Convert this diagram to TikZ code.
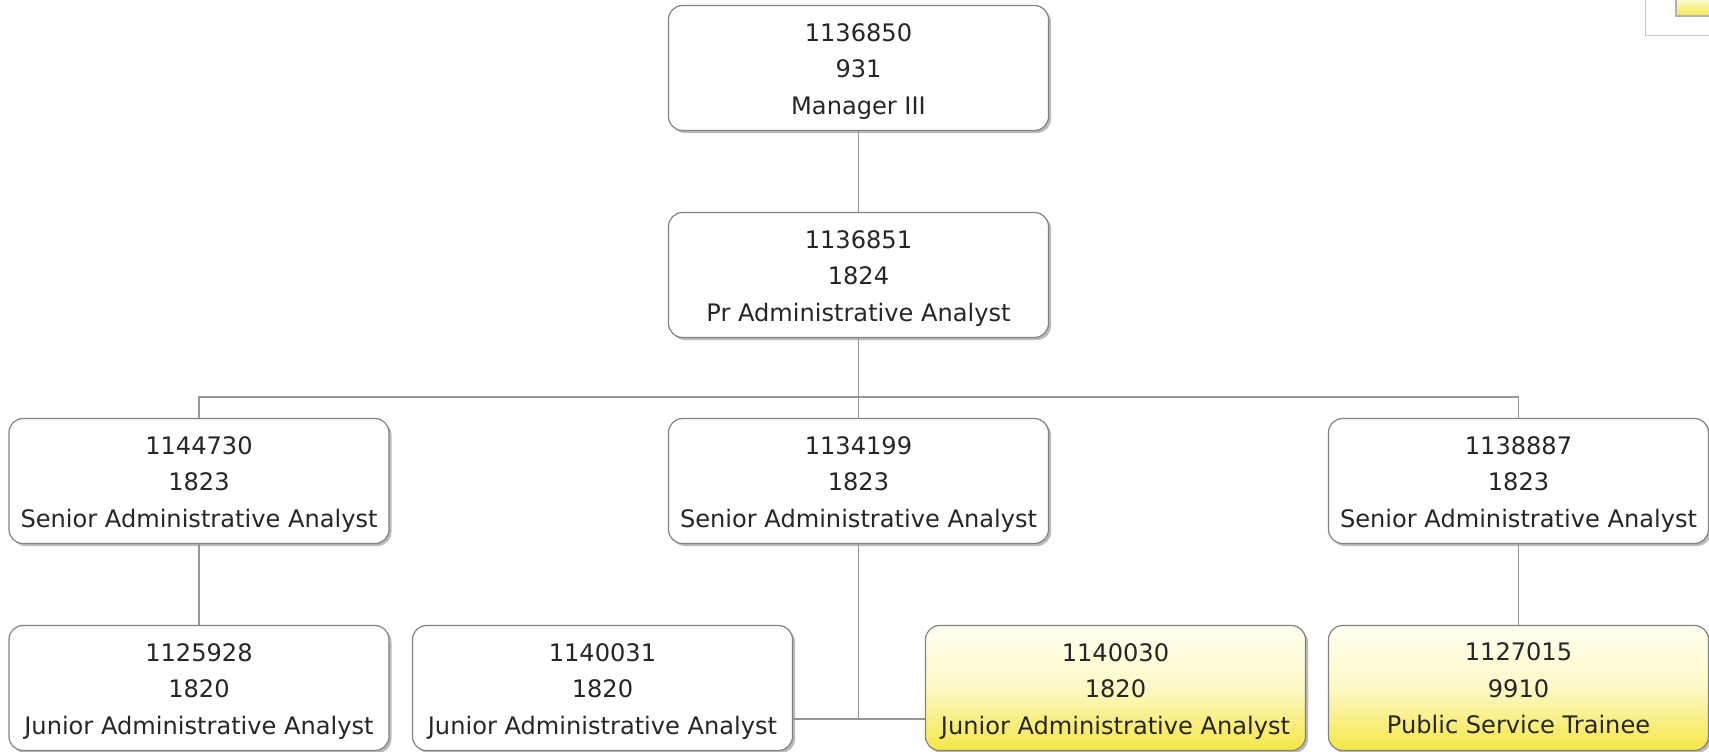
\documentclass[tikz,border=0pt]{standalone}
\usepackage{fontspec}
\setmainfont{DejaVu Sans}
\usetikzlibrary{shadows}
\definecolor{boxgray}{RGB}{130,130,130}
\definecolor{linegray}{RGB}{150,150,150}
\definecolor{textcol}{RGB}{38,38,38}
\definecolor{ytop}{RGB}{255,255,240}
\definecolor{ybot}{RGB}{246,230,70}
\newcommand{\topstrut}{\rule{0pt}{24.5pt}}
\tikzset{
  orgbox/.style={draw=boxgray, line width=1.2pt, rounded corners=14pt,
    minimum width=380pt, minimum height=125pt, align=center, fill=white,
    inner sep=0pt,
    drop shadow={shadow xshift=2.5pt, shadow yshift=-2.5pt, fill=black!45, opacity=0.6},
    font=\fontsize{24.1}{36.5}\selectfont, text=textcol},
  vacant/.style={orgbox, top color=ytop, bottom color=ybot, middle color=ybot!25!ytop},
  conn/.style={draw=linegray, line width=1.1pt}
}
\begin{document}
\begin{tikzpicture}[x=1pt,y=-1pt]
\useasboundingbox (0,0) rectangle (1709,752);
% legend fragment (top right)
\draw[draw=black!22, line width=1pt] (1645,-2) -- (1645,36) -- (1712,36);
\shade[top color=ytop, bottom color=ybot, draw=black!30, line width=1.5pt] (1676,-4) rectangle (1715,16);

\node[orgbox] (top) at (858.5,68) {\topstrut 1136850\\931\\Manager III};
\node[orgbox] (b2) at (858.5,275) {\topstrut 1136851\\1824\\Pr Administrative Analyst};
\node[orgbox] (s1) at (199,481) {\topstrut 1144730\\1823\\Senior Administrative Analyst};
\node[orgbox] (s2) at (858.5,481) {\topstrut 1134199\\1823\\Senior Administrative Analyst};
\node[orgbox] (s3) at (1518.5,481) {\topstrut 1138887\\1823\\Senior Administrative Analyst};
\node[orgbox] (j1) at (199,688) {\topstrut 1125928\\1820\\Junior Administrative Analyst};
\node[orgbox] (j2) at (602.5,688) {\topstrut 1140031\\1820\\Junior Administrative Analyst};
\node[vacant] (j3) at (1115.5,688) {\topstrut 1140030\\1820\\Junior Administrative Analyst};
\node[vacant] (j4) at (1518.5,688) {\topstrut 1127015\\9910\\Public Service Trainee\rule[-6pt]{0pt}{0pt}};

\coordinate (hb) at (858.5,397);
\coordinate (hj) at (858.5,719);
\draw[conn] (top) -- (b2);
\draw[conn] (b2.south) -- (hb);
\draw[conn] (s1.north) |- (hb) -| (s3.north);
\draw[conn] (hb) -- (s2.north);
\draw[conn] (s1) -- (j1);
\draw[conn] (s3) -- (j4);
\draw[conn] (s2.south) -- (hj);
\draw[conn] (j2.east |- hj) -- (j3.west |- hj);
\end{tikzpicture}
\end{document}
